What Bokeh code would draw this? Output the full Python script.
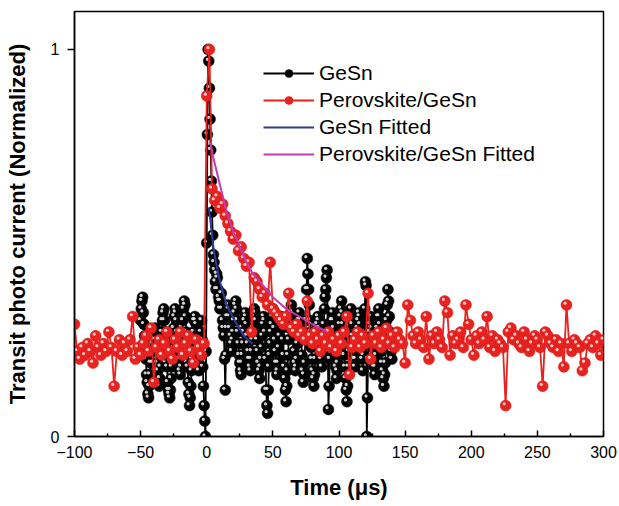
from bokeh.plotting import figure
from bokeh.models import FixedTicker, Range1d, Legend, LegendItem, ColumnDataSource
from bokeh.transform import dodge
from bokeh.embed import file_html
from bokeh.resources import INLINE

# ---------------- data ----------------
# GeSn samples at whole microseconds (-50 ... 140)
gesn_y_whole = [
    0.30, 0.35, 0.32, 0.26, 0.20, 0.14, 0.10, 0.16, 0.22, 0.19,
    0.25, 0.28, 0.22, 0.17, 0.13, 0.18, 0.27, 0.32, 0.30, 0.24,
    0.18, 0.12, 0.10, 0.15, 0.21, 0.28, 0.33, 0.30, 0.25, 0.20,
    0.16, 0.21, 0.30, 0.35, 0.31, 0.22, 0.14, 0.08, 0.13, 0.20,
    0.27, 0.31, 0.29, 0.22, 0.17, 0.24, 0.30, 0.18, 0.08, 0.00,
    0.50, 1.00, 0.90, 0.74, 0.58, 0.47, 0.43, 0.38, 0.41, 0.36,
    0.33, 0.37, 0.30, 0.26, 0.12, 0.28, 0.34, 0.31, 0.26, 0.22,
    0.27, 0.32, 0.35, 0.30, 0.24, 0.19, 0.16, 0.21, 0.27, 0.32,
    0.29, 0.24, 0.20, 0.17, 0.22, 0.28, 0.33, 0.30, 0.25, 0.19,
    0.15, 0.20, 0.26, 0.31, 0.27, 0.12, 0.06, 0.18, 0.24, 0.29,
    0.33, 0.28, 0.22, 0.16, 0.19, 0.26, 0.31, 0.28, 0.21, 0.15,
    0.09, 0.17, 0.25, 0.30, 0.34, 0.29, 0.22, 0.17, 0.20, 0.27,
    0.32, 0.28, 0.21, 0.14, 0.19, 0.30, 0.46, 0.38, 0.30, 0.23,
    0.17, 0.13, 0.20, 0.27, 0.31, 0.28, 0.22, 0.18, 0.24, 0.33,
    0.38, 0.43, 0.07, 0.20, 0.27, 0.32, 0.28, 0.21, 0.15, 0.19,
    0.26, 0.31, 0.35, 0.29, 0.21, 0.15, 0.09, 0.18, 0.26, 0.33,
    0.29, 0.23, 0.18, 0.22, 0.28, 0.32, 0.29, 0.23, 0.17, 0.25,
    0.40, 0.00, 0.20, 0.27, 0.31, 0.26, 0.20, 0.16, 0.21, 0.28,
    0.33, 0.29, 0.22, 0.17, 0.13, 0.19, 0.30, 0.38, 0.31, 0.24,
    0.20,
]
# GeSn samples at half microseconds (-49.5 ... 139.5)
gesn_y_half = [
    0.33, 0.36, 0.29, 0.23, 0.16, 0.11, 0.13, 0.19, 0.24, 0.22,
    0.27, 0.25, 0.19, 0.14, 0.15, 0.23, 0.30, 0.33, 0.27, 0.21,
    0.14, 0.11, 0.12, 0.18, 0.25, 0.31, 0.32, 0.27, 0.23, 0.17,
    0.18, 0.26, 0.33, 0.34, 0.27, 0.18, 0.11, 0.10, 0.17, 0.24,
    0.30, 0.30, 0.25, 0.19, 0.21, 0.27, 0.25, 0.13, 0.04, 0.22,
    0.78, 0.97, 0.82, 0.66, 0.52, 0.45, 0.40, 0.42, 0.38, 0.35,
    0.35, 0.33, 0.28, 0.20, 0.21, 0.31, 0.33, 0.28, 0.24, 0.25,
    0.30, 0.34, 0.33, 0.27, 0.21, 0.17, 0.19, 0.24, 0.30, 0.31,
    0.26, 0.22, 0.18, 0.20, 0.25, 0.31, 0.32, 0.27, 0.22, 0.17,
    0.18, 0.23, 0.29, 0.30, 0.20, 0.08, 0.12, 0.21, 0.27, 0.31,
    0.31, 0.25, 0.19, 0.17, 0.23, 0.29, 0.30, 0.25, 0.18, 0.12,
    0.13, 0.21, 0.28, 0.32, 0.32, 0.26, 0.19, 0.18, 0.24, 0.30,
    0.30, 0.25, 0.17, 0.16, 0.25, 0.38, 0.42, 0.34, 0.27, 0.20,
    0.15, 0.16, 0.24, 0.29, 0.30, 0.25, 0.20, 0.21, 0.29, 0.36,
    0.41, 0.25, 0.13, 0.24, 0.30, 0.30, 0.25, 0.18, 0.17, 0.23,
    0.29, 0.33, 0.32, 0.25, 0.18, 0.12, 0.13, 0.22, 0.30, 0.31,
    0.26, 0.20, 0.20, 0.25, 0.30, 0.31, 0.26, 0.20, 0.21, 0.33,
    0.39, 0.10, 0.24, 0.29, 0.28, 0.23, 0.18, 0.18, 0.25, 0.31,
    0.31, 0.25, 0.19, 0.15, 0.16, 0.25, 0.34, 0.35, 0.27, 0.22,
]
gesn_t_whole = list(range(-50, 141))
gesn_t_half = [t + 0.5 for t in range(-50, 140)]

pg_t = list(range(-100, 301, 2))
pg_y = [
    0.29, 0.22, 0.20, 0.23, 0.21, 0.24, 0.22, 0.19, 0.26, 0.23,
    0.21, 0.24, 0.22, 0.27, 0.23, 0.13, 0.22, 0.25, 0.21, 0.24,
    0.22, 0.25, 0.31, 0.20, 0.23, 0.21, 0.24, 0.26, 0.22, 0.28,
    0.14, 0.23, 0.25, 0.21, 0.24, 0.27, 0.22, 0.20, 0.25, 0.23,
    0.27, 0.21, 0.24, 0.26, 0.22, 0.19, 0.25, 0.23, 0.21, 0.24,
    0.88, 1.00, 0.64, 0.61, 0.62, 0.59, 0.60, 0.57, 0.55, 0.53,
    0.51, 0.52, 0.48, 0.49, 0.46, 0.44, 0.45, 0.27, 0.41, 0.40,
    0.38, 0.36, 0.37, 0.34, 0.45, 0.33, 0.32, 0.31, 0.30, 0.29,
    0.31, 0.37, 0.28, 0.27, 0.29, 0.26, 0.27, 0.25, 0.35, 0.26,
    0.24, 0.27, 0.25, 0.22, 0.26, 0.24, 0.27, 0.23, 0.25, 0.22,
    0.26, 0.24, 0.27, 0.31, 0.16, 0.23, 0.25, 0.27, 0.23, 0.26,
    0.24, 0.37, 0.20, 0.26, 0.24, 0.27, 0.23, 0.25, 0.28, 0.24,
    0.26, 0.23, 0.27, 0.25, 0.24, 0.19, 0.34, 0.30, 0.26, 0.24,
    0.27, 0.25, 0.23, 0.31, 0.20, 0.26, 0.24, 0.27, 0.25, 0.23,
    0.35, 0.32, 0.21, 0.26, 0.24, 0.25, 0.27, 0.23, 0.34, 0.29,
    0.25, 0.21, 0.26, 0.24, 0.27, 0.25, 0.31, 0.23, 0.26, 0.22,
    0.25, 0.24, 0.23, 0.08, 0.27, 0.28, 0.25, 0.26, 0.24, 0.23,
    0.27, 0.25, 0.22, 0.24, 0.26, 0.25, 0.23, 0.13, 0.27, 0.26,
    0.24, 0.23, 0.25, 0.22, 0.24, 0.18, 0.34, 0.24, 0.22, 0.25,
    0.24, 0.23, 0.17, 0.19, 0.24, 0.25, 0.23, 0.26, 0.24, 0.21,
    0.25,
]

gesn_fit_t = [1.7, 3, 5, 7.5, 10, 12.5, 15, 18, 21, 24.5, 28, 31, 34.6]
gesn_fit_y = [0.59, 0.55, 0.49, 0.44, 0.40, 0.37, 0.34, 0.32, 0.30, 0.28, 0.26, 0.25, 0.24]

pg_fit_t = [2.7, 5, 10, 15, 20, 25, 30, 35, 40, 45, 50, 60, 70, 80, 91]
pg_fit_y = [0.76, 0.72, 0.65, 0.58, 0.53, 0.49, 0.45, 0.42, 0.40, 0.38, 0.36, 0.33, 0.31, 0.29, 0.27]

x_ticks = [-100, -50, 0, 50, 100, 150, 200, 250, 300]
x_minor = [-75, -25, 25, 75, 125, 175, 225, 275]
y_ticks = [0, 1]

series_names = ["GeSn", "Perovskite/GeSn", "GeSn Fitted", "Perovskite/GeSn Fitted"]

BLACK = "#000000"
RED = "#e8221e"
BLUE = "#2e3a96"
MAGENTA = "#c13bb3"
FONT = "Liberation Sans"

# merge whole and half samples in time order
gesn_t, gesn_y = [], []
for i in range(len(gesn_t_whole)):
    gesn_t.append(gesn_t_whole[i]); gesn_y.append(gesn_y_whole[i])
    if i < len(gesn_t_half):
        gesn_t.append(gesn_t_half[i]); gesn_y.append(gesn_y_half[i])

gesn_src = ColumnDataSource(data=dict(t=gesn_t, y=gesn_y))
pg_src = ColumnDataSource(data=dict(t=pg_t, y=pg_y))

# ---------------- figure ----------------
p = figure(width=619, height=506, output_backend="svg", toolbar_location=None,
           x_range=Range1d(-100, 300), y_range=Range1d(0, 1.098))
p.min_border_left = 74
p.min_border_right = 16
p.min_border_top = 11
p.min_border_bottom = 70
p.background_fill_color = "white"
p.border_fill_color = "white"
p.outline_line_color = "black"
p.outline_line_width = 1.5
p.grid.visible = False

xa = p.xaxis[0]
xa.ticker = FixedTicker(ticks=x_ticks, minor_ticks=x_minor)
xa.major_tick_in = 6
xa.major_tick_out = 0
xa.minor_tick_in = 3
xa.minor_tick_out = 0
xa.axis_line_width = 1.5
xa.major_tick_line_width = 1.5
xa.minor_tick_line_width = 1.5
xa.major_label_text_font = FONT
xa.major_label_text_font_size = "16px"
xa.major_label_text_color = "black"
xa.major_label_standoff = 9
xa.axis_label = "Time (μs)"
xa.axis_label_text_font = FONT
xa.axis_label_text_font_style = "bold"
xa.axis_label_text_font_size = "22px"
xa.axis_label_text_color = "black"
xa.axis_label_standoff = 14

ya = p.yaxis[0]
ya.ticker = FixedTicker(ticks=y_ticks, minor_ticks=[])
ya.major_tick_in = 0
ya.major_tick_out = 7
ya.minor_tick_in = 0
ya.minor_tick_out = 0
ya.axis_line_width = 1.5
ya.major_tick_line_width = 1.5
ya.major_label_text_font = FONT
ya.major_label_text_font_size = "16px"
ya.major_label_text_color = "black"
ya.major_label_standoff = 8
ya.axis_label = "Transit photo current (Normalized)"
ya.axis_label_text_font = FONT
ya.axis_label_text_font_style = "bold"
ya.axis_label_text_font_size = "22px"
ya.axis_label_text_color = "black"
ya.axis_label_standoff = 18

# ---------------- glyphs ----------------
g_line = p.line("t", "y", source=gesn_src, line_color=BLACK, line_width=1.8)
g_mark = p.scatter("t", "y", source=gesn_src, marker="circle", size=11, fill_color=BLACK,
                   line_color="#111111", line_width=0.5)
g_hi = p.scatter(dodge("t", -1.1), dodge("y", 0.0045), source=gesn_src, marker="circle",
                 size=3.2, fill_color="#e8e8e8", line_color=None, fill_alpha=0.9)

r_line = p.line("t", "y", source=pg_src, line_color=RED, line_width=1.8)
r_mark = p.scatter("t", "y", source=pg_src, marker="circle", size=11, fill_color=RED,
                   line_color="#d81a16", line_width=0.5)
r_hi = p.scatter(dodge("t", -1.1), dodge("y", 0.0045), source=pg_src, marker="circle",
                 size=3.2, fill_color="#ffe0e0", line_color=None, fill_alpha=0.9)

b_fit = p.line(gesn_fit_t, gesn_fit_y, line_color=BLUE, line_width=2)
m_fit = p.line(pg_fit_t, pg_fit_y, line_color=MAGENTA, line_width=2)

legend = Legend(items=[
    LegendItem(label=series_names[0], renderers=[g_line, g_mark]),
    LegendItem(label=series_names[1], renderers=[r_line, r_mark]),
    LegendItem(label=series_names[2], renderers=[b_fit]),
    LegendItem(label=series_names[3], renderers=[m_fit]),
], location=(189, 270))
legend.label_text_font = FONT
legend.label_text_font_size = "21px"
legend.label_text_color = "black"
legend.glyph_width = 51
legend.glyph_height = 20
legend.label_height = 20
legend.spacing = 3
legend.padding = 0
legend.margin = 0
legend.label_standoff = 5
legend.border_line_color = None
legend.background_fill_alpha = 0
p.add_layout(legend)

open("out.html", "w").write(file_html(p, INLINE))
